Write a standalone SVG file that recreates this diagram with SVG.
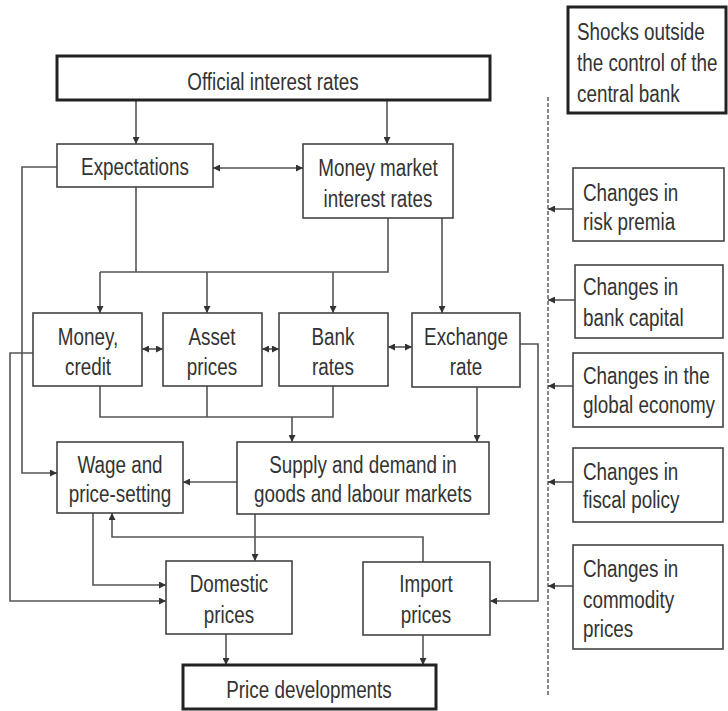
<svg xmlns="http://www.w3.org/2000/svg" width="728" height="711" viewBox="0 0 728 711">
<defs>
<marker id="ah" viewBox="0 0 10 10" refX="10" refY="5" markerWidth="7" markerHeight="7" markerUnits="userSpaceOnUse" orient="auto-start-reverse">
<path d="M0,0 L10,5 L0,10 z" fill="#333"/>
</marker>
<style>
.b{fill:#fff;stroke:#444;stroke-width:1.6}
.k{fill:#fff;stroke:#222;stroke-width:3}
text{font-family:"Liberation Sans",Arial,sans-serif;font-size:23px;fill:#333}
.c{text-anchor:middle}
.l{fill:none;stroke:#555;stroke-width:1.6}
.a{marker-end:url(#ah)}
.d{marker-start:url(#ah);marker-end:url(#ah)}
.dash{fill:none;stroke:#444;stroke-width:1.3;stroke-dasharray:4,2}
</style>
</defs>
<rect width="728" height="711" fill="#fff"/>
<g id="connectors">
<path class="l a" d="M136,100 V144"/>
<path class="l a" d="M387,100 V144"/>
<path class="l d" d="M213,168 H303"/>
<path class="l a" d="M57,167 H22 V473 H57"/>
<path class="l" d="M136,187 V272"/>
<path class="l" d="M388,218 V272 H100"/>
<path class="l a" d="M100,272 V313"/>
<path class="l a" d="M207,272 V313"/>
<path class="l a" d="M333,272 V313"/>
<path class="l a" d="M442,218 V313"/>
<path class="l d" d="M142,349 H163"/>
<path class="l d" d="M262,349 H279"/>
<path class="l d" d="M388,347 H412"/>
<path class="l a" d="M33,353 H10 V601 H166"/>
<path class="l" d="M100,386 V417 H333 V386"/>
<path class="l" d="M207,386 V417"/>
<path class="l a" d="M292,417 V442"/>
<path class="l a" d="M477,387 V442"/>
<path class="l a" d="M237,482 H183"/>
<path class="l a" d="M520,344 H538 V601 H490"/>
<path class="l a" d="M423,562 V537 H112 V513"/>
<path class="l a" d="M93,513 V585 H166"/>
<path class="l a" d="M255,514 V561"/>
<path class="l a" d="M226,634 V665"/>
<path class="l a" d="M423,635 V665"/>
<path class="dash" d="M548,97 V695"/>
<path class="l a" d="M573,209 H548"/>
<path class="l a" d="M575,300 H548"/>
<path class="l a" d="M573,386 H548"/>
<path class="l a" d="M573,482 H548"/>
<path class="l a" d="M573,586 H548"/>
</g>
<g id="official"><rect class="k" x="57" y="56" width="433" height="44"/><text class="c" transform="translate(273,90) scale(0.82,1)">Official interest rates</text></g>
<g id="expectations"><rect class="b" x="57" y="144" width="156" height="43"/><text class="c" transform="translate(135,175) scale(0.82,1)">Expectations</text></g>
<g id="moneymarket"><rect class="b" x="303" y="144" width="150" height="74"/><text class="c" transform="translate(378,176) scale(0.82,1)">Money market</text><text class="c" transform="translate(378,207) scale(0.82,1)">interest rates</text></g>
<g id="money"><rect class="b" x="33" y="313" width="109" height="73"/><text class="c" transform="translate(88,345) scale(0.82,1)">Money,</text><text class="c" transform="translate(88,375) scale(0.82,1)">credit</text></g>
<g id="asset"><rect class="b" x="163" y="313" width="99" height="73"/><text class="c" transform="translate(212,345) scale(0.82,1)">Asset</text><text class="c" transform="translate(212,375) scale(0.82,1)">prices</text></g>
<g id="bank"><rect class="b" x="279" y="313" width="109" height="73"/><text class="c" transform="translate(333,345) scale(0.82,1)">Bank</text><text class="c" transform="translate(333,375) scale(0.82,1)">rates</text></g>
<g id="exchange"><rect class="b" x="412" y="313" width="108" height="74"/><text class="c" transform="translate(466,345) scale(0.82,1)">Exchange</text><text class="c" transform="translate(466,375) scale(0.82,1)">rate</text></g>
<g id="wage"><rect class="b" x="57" y="442" width="126" height="71"/><text class="c" transform="translate(120,473) scale(0.82,1)">Wage and</text><text class="c" transform="translate(120,502) scale(0.82,1)">price-setting</text></g>
<g id="supply"><rect class="b" x="237" y="442" width="252" height="72"/><text class="c" transform="translate(363,473) scale(0.82,1)">Supply and demand in</text><text class="c" transform="translate(363,502) scale(0.82,1)">goods and labour markets</text></g>
<g id="domestic"><rect class="b" x="166" y="561" width="126" height="73"/><text class="c" transform="translate(229,592) scale(0.82,1)">Domestic</text><text class="c" transform="translate(229,623) scale(0.82,1)">prices</text></g>
<g id="import"><rect class="b" x="363" y="562" width="127" height="73"/><text class="c" transform="translate(426,592) scale(0.82,1)">Import</text><text class="c" transform="translate(426,623) scale(0.82,1)">prices</text></g>
<g id="pricedev"><rect class="k" x="183" y="665" width="253" height="44"/><text class="c" transform="translate(309,698) scale(0.82,1)">Price developments</text></g>
<g id="shocks"><rect class="k" x="568" y="7" width="158" height="106"/><text transform="translate(577,40) scale(0.82,1)">Shocks outside</text><text transform="translate(577,71) scale(0.82,1)">the control of the</text><text transform="translate(577,102) scale(0.82,1)">central bank</text></g>
<g id="risk"><rect class="b" x="573" y="168" width="151" height="73"/><text transform="translate(583,201) scale(0.82,1)">Changes in</text><text transform="translate(583,230) scale(0.82,1)">risk premia</text></g>
<g id="bankcap"><rect class="b" x="575" y="265" width="148" height="73"/><text transform="translate(583,295) scale(0.82,1)">Changes in</text><text transform="translate(583,326) scale(0.82,1)">bank capital</text></g>
<g id="global"><rect class="b" x="573" y="353" width="150" height="74"/><text transform="translate(583,384) scale(0.82,1)">Changes in the</text><text transform="translate(583,413) scale(0.82,1)">global economy</text></g>
<g id="fiscal"><rect class="b" x="573" y="448" width="150" height="74"/><text transform="translate(583,480) scale(0.82,1)">Changes in</text><text transform="translate(583,508) scale(0.82,1)">fiscal policy</text></g>
<g id="commodity"><rect class="b" x="573" y="545" width="150" height="104"/><text transform="translate(583,577) scale(0.82,1)">Changes in</text><text transform="translate(583,608) scale(0.82,1)">commodity</text><text transform="translate(583,637) scale(0.82,1)">prices</text></g>
</svg>
